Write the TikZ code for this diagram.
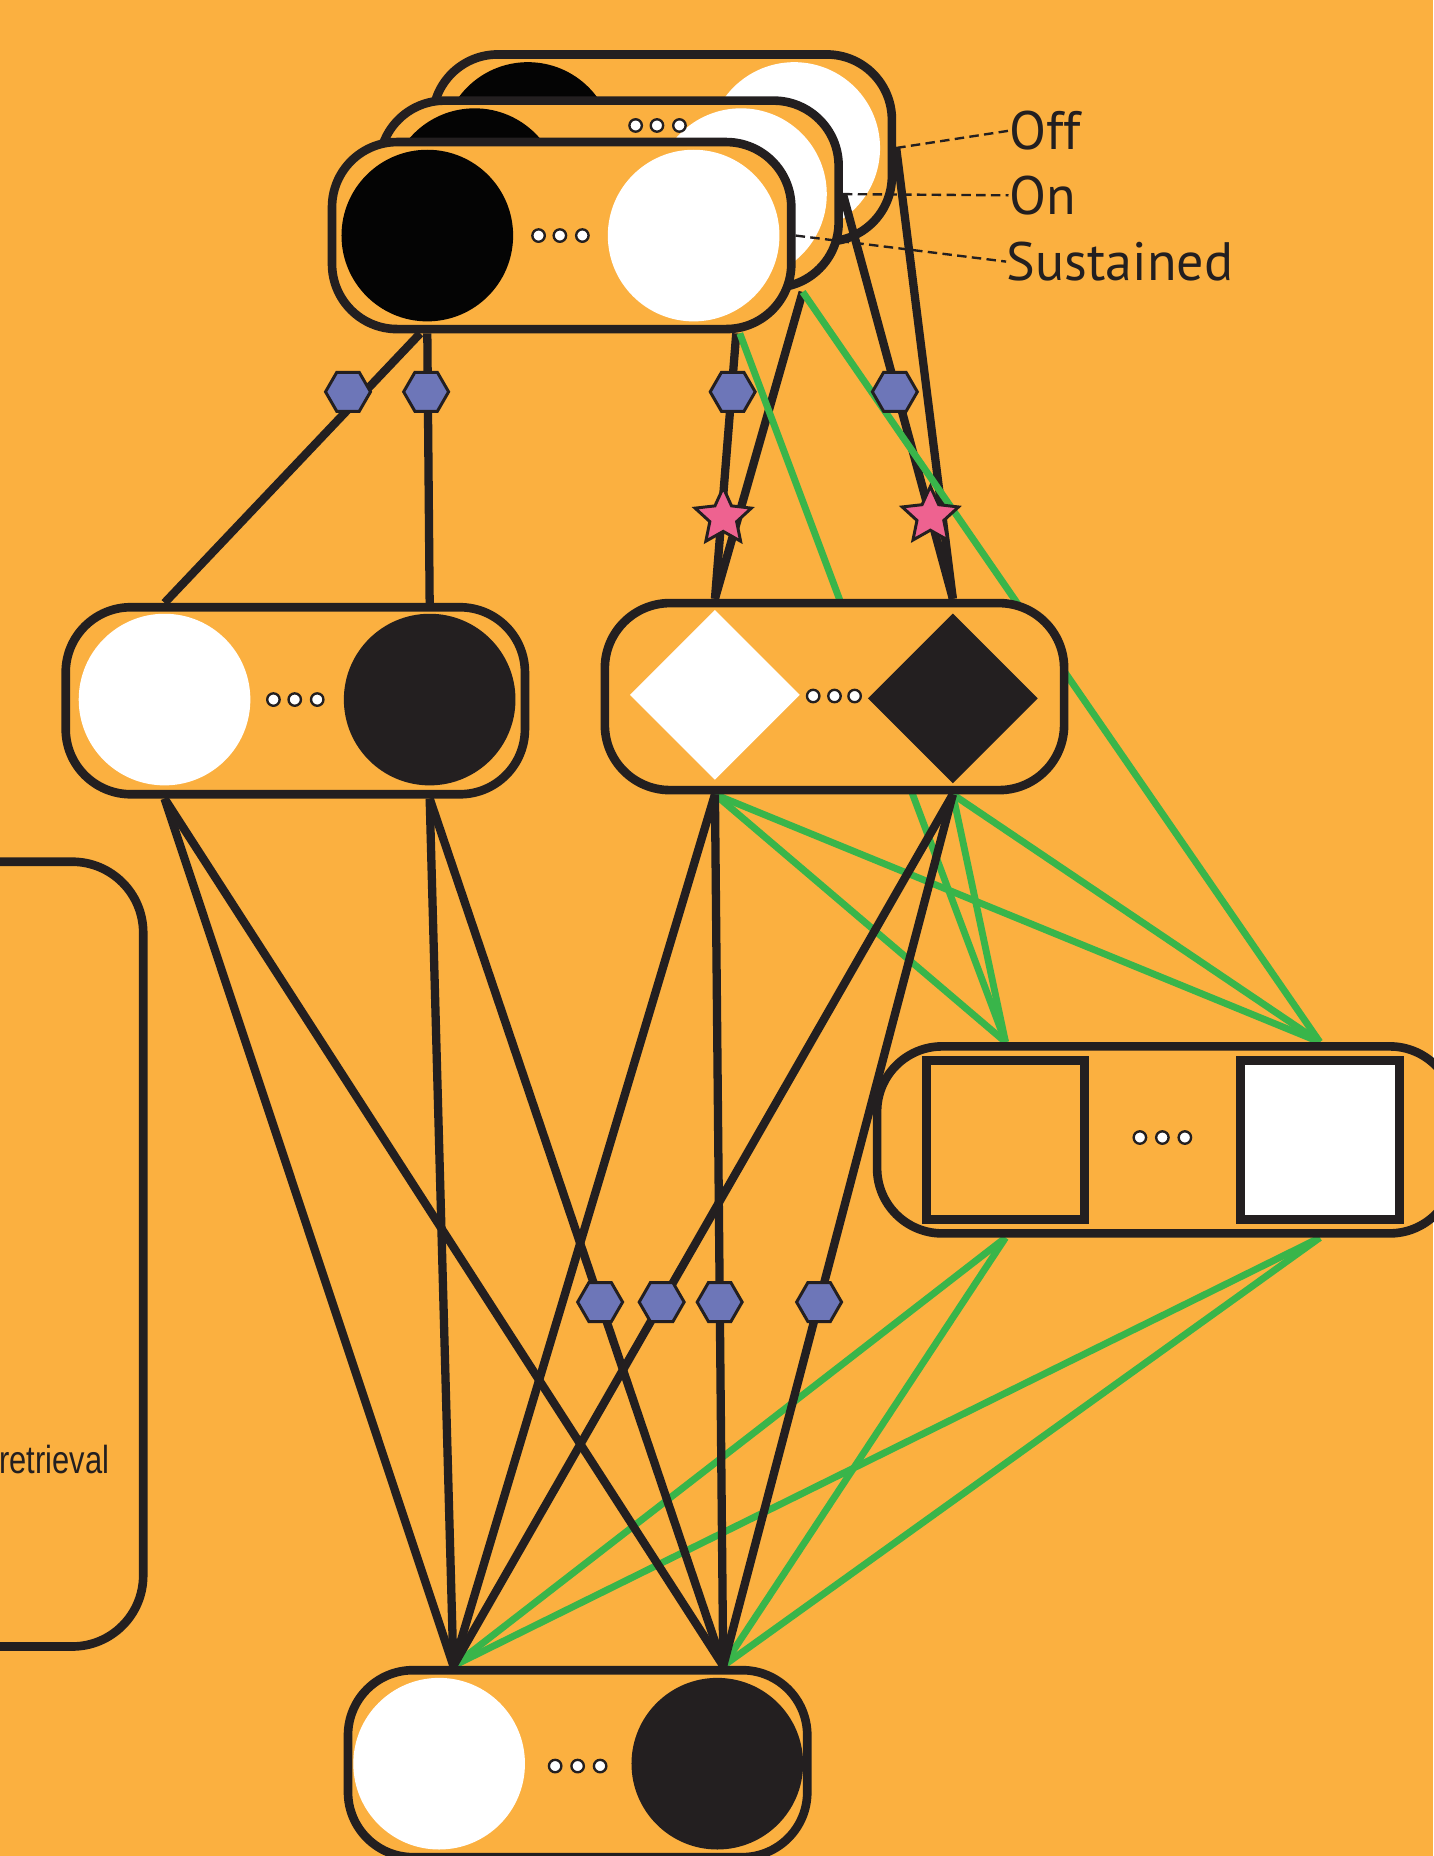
\documentclass[tikz,border=0pt]{standalone}
\usepackage{fontspec}
\setmainfont{PT Sans}
\newfontfamily\narrowsans[FakeStretch=0.79]{Liberation Sans}
\usetikzlibrary{shapes.geometric,calc}

\definecolor{bg}{HTML}{FBB040}
\definecolor{ink}{HTML}{231F20}
\definecolor{deep}{HTML}{040404}
\definecolor{link}{HTML}{39B54A}
\definecolor{gate}{HTML}{6D76B8}
\definecolor{spark}{HTML}{EE6290}

% drawing layers, back to front
\pgfdeclarelayer{s0}
\pgfdeclarelayer{s1}
\pgfdeclarelayer{s2}
\pgfdeclarelayer{s3}
\pgfdeclarelayer{s4}
\pgfdeclarelayer{s5}
\pgfdeclarelayer{s6}
\pgfdeclarelayer{s7}
\pgfdeclarelayer{s8}
\pgfdeclarelayer{s9}
\pgfsetlayers{s0,s1,s2,s3,s4,s5,s6,s7,s8,main,s9}

\begin{document}
\begin{tikzpicture}[x=0.1mm,y=-0.1mm,
  unit/.style={draw=ink, fill=bg, line width=0.73mm, rounded corners=5.5mm,
    minimum width=38.8mm, minimum height=15.8mm, inner sep=0},
  wdisc/.style={circle, fill=white, minimum size=14.5mm, inner sep=0},
  bdisc/.style={circle, fill=ink, minimum size=14.5mm, inner sep=0},
  wgem/.style={diamond, aspect=1, fill=white, minimum size=14.4mm, inner sep=0},
  bgem/.style={diamond, aspect=1, fill=ink, minimum size=14.4mm, inner sep=0},
  tile/.style={rectangle, draw=ink, line width=0.75mm, minimum size=13.4mm, inner sep=0},
  pip/.style={circle, draw=ink, fill=white, line width=0.2mm,
    minimum size=1.05mm, inner sep=0},
  hexa/.style={regular polygon, regular polygon sides=6, draw=ink, fill=gate,
    line width=0.25mm, minimum size=3.8mm, inner sep=0},
  burst/.style={star, star points=5, star point ratio=2.1, draw=ink, fill=spark,
    line width=0.25mm, minimum size=5mm, inner sep=0},
  wire/.style={draw=ink, line width=0.7mm},
  gwire/.style={draw=link, line width=0.58mm},
  lead/.style={draw=ink, line width=0.2mm, dash pattern=on 0.8mm off 0.45mm},
  lbl/.style={text=ink, font=\fontsize{13pt}{15pt}\selectfont, inner sep=0,
    text height=3.2mm, text depth=0mm, anchor=west}
]
\useasboundingbox (0,0) rectangle (1211,1568);

\begin{pgfonlayer}{s0}
  \fill[bg] (0,0) rectangle (1211,1568);
\end{pgfonlayer}

% ---------- stacked input units ----------
\begin{pgfonlayer}{s1}
  \node[unit] (A) at (559.5,125) {};
  \node[bdisc, fill=deep] (aB) at (446,125) {};
  \node[wdisc] (aW) at (671,125) {};
\end{pgfonlayer}

\begin{pgfonlayer}{s3}
  \node[unit] (B) at (514.5,164) {};
  \node[bdisc, fill=deep] (bB) at (401,164) {};
  \node[wdisc] (bW) at (626,164) {};
  \node[pip] (bp1) at (537,106) {};
  \node[pip] (bp2) at (555,106) {};
  \node[pip] (bp3) at (574,106) {};
\end{pgfonlayer}

\begin{pgfonlayer}{s5}
  \node[unit] (C) at (474.5,199) {};
  \node[bdisc, fill=deep] (cB) at (361,199) {};
  \node[wdisc] (cW) at (586,199) {};
  \node[pip] (cp1) at (455,199) {};
  \node[pip] (cp2) at (473,199) {};
  \node[pip] (cp3) at (492,199) {};
\end{pgfonlayer}

% ---------- hidden units ----------
\node[unit] (D) at (249.5,592) {};
\node[wdisc] (dW) at (139,591) {};
\node[bdisc] (dB) at (363,591) {};
\node[pip] (dp1) at (231,591) {};
\node[pip] (dp2) at (249,591) {};
\node[pip] (dp3) at (268,591) {};

\node[unit] (E) at (705,588.5) {};
\node[wgem] (eW) at (604,587) {};
\node[bgem] (eB) at (805,590) {};
\node[pip] (ep1) at (687,588) {};
\node[pip] (ep2) at (705,588) {};
\node[pip] (ep3) at (722,588) {};

\begin{pgfonlayer}{s7}
  \node[unit, minimum width=48.8mm] (F) at (985,963) {};
  \node[tile] (fL) at (849.5,963) {};
  \node[tile, fill=white] (fR) at (1115,963) {};
  \node[pip] (fp1) at (963,961) {};
  \node[pip] (fp2) at (982,961) {};
  \node[pip] (fp3) at (1001,961) {};
\end{pgfonlayer}

% ---------- output unit ----------
\node[unit] (G) at (488,1490) {};
\node[wdisc] (gW) at (371,1490) {};
\node[bdisc] (gB) at (606,1490) {};
\node[pip] (gp1) at (469,1492) {};
\node[pip] (gp2) at (488,1492) {};
\node[pip] (gp3) at (507,1492) {};

% ---------- side panel ----------
\node[unit, minimum width=42.1mm, minimum height=66.3mm, rounded corners=6mm] (H) at (-89.5,1059.5) {};
\node[anchor=base east, text=ink, font=\narrowsans\fontsize{9.4pt}{11pt}\selectfont, inner sep=0] (hx) at (93,1245) {retrieval};

% ---------- state labels ----------
\node[lbl] (off) at (852,110.5) {Off};
\node[lbl] (on) at (852,165) {On};
\node[lbl] (sus) at (850,221) {Sustained};

\begin{pgfonlayer}{s1}
  \draw[lead] (A.east) -- (off.west);
\end{pgfonlayer}
\begin{pgfonlayer}{s3}
  \draw[lead] (B.east) -- (on.west);
\end{pgfonlayer}
\begin{pgfonlayer}{s5}
  \draw[lead] (C.east) -- (sus.west);
\end{pgfonlayer}

% ---------- ports ----------
\coordinate (bOut) at ($(B.south east)+(-34,0)$);
\coordinate (cOutB) at ($(cB |- C.south)+(-6,0)$);
\coordinate (cOutW) at ($(cW |- C.south)+(36,0)$);
\coordinate (cOutG) at ($(cW |- C.south)+(39,0)$);
\coordinate (gIn1) at ($(gW |- G.north)+(12,0)$);
\coordinate (gIn2) at ($(gB |- G.north)+(5,0)$);

% ---------- connections from the stacked units ----------
\begin{pgfonlayer}{s2}
  \draw[wire] (A.east) -- (eB |- E.north);
  \draw[wire] (B.east) -- (eB |- E.north);
  \draw[wire] (bOut) -- (eW |- E.north);
  \draw[gwire] (bOut) -- (fR |- F.north);
\end{pgfonlayer}

\begin{pgfonlayer}{s4}
  \draw[wire] (cOutB) -- (dW |- D.north);
  \draw[wire] (cB |- C.south) -- (dB |- D.north);
  \draw[wire] (cOutW) -- (eW |- E.north);
  \draw[gwire] (cOutG) -- (fL |- F.north);
\end{pgfonlayer}

% ---------- green links ----------
\begin{pgfonlayer}{s6}
  \draw[gwire] (eW |- E.south) -- (fL |- F.north);
  \draw[gwire] (eW |- E.south) -- (fR |- F.north);
  \draw[gwire] (eB |- E.south) -- (fL |- F.north);
  \draw[gwire] (eB |- E.south) -- (fR |- F.north);
  \draw[gwire] (fL |- F.south) -- (gIn1);
  \draw[gwire] (fL |- F.south) -- (gIn2);
  \draw[gwire] (fR |- F.south) -- (gIn1);
  \draw[gwire] (fR |- F.south) -- (gIn2);
\end{pgfonlayer}

% ---------- black links to the output ----------
\begin{pgfonlayer}{s8}
  \draw[wire] (dW |- D.south) -- (gIn1);
  \draw[wire] (dW |- D.south) -- (gIn2);
  \draw[wire] (dB |- D.south) -- (gIn1);
  \draw[wire] (dB |- D.south) -- (gIn2);
  \draw[wire] (eW |- E.south) -- (gIn1);
  \draw[wire] (eW |- E.south) -- (gIn2);
  \draw[wire] (eB |- E.south) -- (gIn1);
  \draw[wire] (eB |- E.south) -- (gIn2);
\end{pgfonlayer}

% ---------- synapse markers ----------
\begin{pgfonlayer}{s9}
  \node[hexa] (h1) at (294,331) {};
  \node[hexa] (h2) at (360,331) {};
  \node[hexa] (h3) at (619,331) {};
  \node[hexa] (h4) at (756,331) {};
  \node[hexa] (h5) at (507,1100) {};
  \node[hexa] (h6) at (559,1100) {};
  \node[hexa] (h7) at (608,1100) {};
  \node[hexa] (h8) at (692,1100) {};
  \node[burst] (s1) at (611,437) {};
  \node[burst] (s2) at (786,436) {};
\end{pgfonlayer}
\end{tikzpicture}
\end{document}
